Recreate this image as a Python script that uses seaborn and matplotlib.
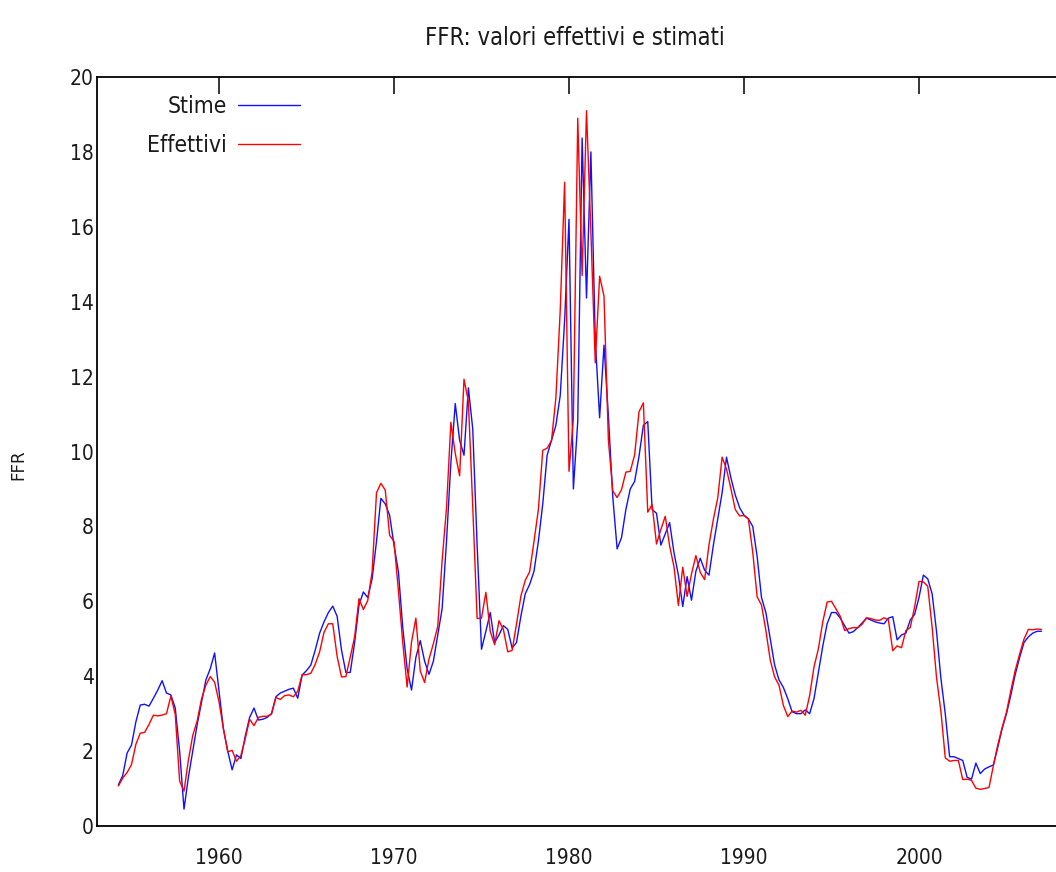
import numpy as np
import pandas as pd
import matplotlib
matplotlib.use("Agg")
import matplotlib.pyplot as plt
import seaborn as sns
from matplotlib import font_manager as fm

# ---------------- data (quarterly, first obs. 1954 Q3, last 2007 Q2) ----------------
start_year = 1954.25      # position of the first quarter on the time axis
step = 0.25

effettivi = [
    1.07, 1.28,
    1.43, 1.64, 2.18, 2.48,   # 1955
    2.50, 2.71, 2.96, 2.94,   # 1956
    2.96, 3.00, 3.47, 2.98,   # 1957
    1.20, 0.93, 1.76, 2.42,   # 1958
    2.80, 3.39, 3.76, 3.99,   # 1959
    3.84, 3.32, 2.60, 1.98,   # 1960
    2.02, 1.73, 1.88, 2.33,   # 1961
    2.85, 2.68, 2.90, 2.93,   # 1962
    2.93, 2.99, 3.43, 3.38,   # 1963
    3.48, 3.50, 3.45, 3.60,   # 1964
    4.04, 4.04, 4.08, 4.32,   # 1965
    4.65, 5.17, 5.40, 5.40,   # 1966
    4.53, 3.98, 3.99, 4.51,   # 1967
    5.05, 6.07, 5.78, 6.02,   # 1968
    6.79, 8.90, 9.15, 8.97,   # 1969
    7.76, 7.60, 6.29, 4.90,   # 1970
    3.71, 4.91, 5.55, 4.14,   # 1971
    3.83, 4.46, 4.87, 5.33,   # 1972
    7.09, 8.49, 10.78, 9.95,  # 1973
    9.35, 11.93, 11.34, 8.53, # 1974
    5.54, 5.55, 6.24, 5.20,   # 1975
    4.84, 5.48, 5.25, 4.65,   # 1976
    4.69, 5.39, 6.14, 6.56,   # 1977
    6.79, 7.60, 8.45, 10.03,  # 1978
    10.09, 10.29, 11.43, 13.78,  # 1979
    17.19, 9.47, 10.87, 18.90,   # 1980
    14.70, 19.10, 15.87, 12.37,  # 1981
    14.68, 14.15, 10.31, 8.95,   # 1982
    8.77, 8.98, 9.45, 9.47,   # 1983
    9.91, 11.06, 11.30, 8.38, # 1984
    8.58, 7.53, 7.92, 8.27,   # 1985
    7.48, 6.92, 5.89, 6.91,   # 1986
    6.13, 6.73, 7.22, 6.77,   # 1987
    6.58, 7.51, 8.19, 8.76,   # 1988
    9.85, 9.53, 9.01, 8.45,   # 1989
    8.28, 8.29, 8.20, 7.31,   # 1990
    6.12, 5.90, 5.22, 4.43,   # 1991
    3.98, 3.76, 3.22, 2.92,   # 1992
    3.07, 3.04, 3.09, 2.96,   # 1993
    3.48, 4.25, 4.73, 5.45,   # 1994
    5.98, 6.00, 5.80, 5.60,   # 1995
    5.22, 5.27, 5.30, 5.29,   # 1996
    5.39, 5.56, 5.54, 5.50,   # 1997
    5.49, 5.56, 5.51, 4.68,   # 1998
    4.81, 4.76, 5.22, 5.30,   # 1999
    5.85, 6.53, 6.52, 6.40,   # 2000
    5.31, 3.97, 3.07, 1.82,   # 2001
    1.73, 1.75, 1.75, 1.24,   # 2002
    1.25, 1.22, 1.01, 0.98,   # 2003
    1.00, 1.03, 1.61, 2.16,   # 2004
    2.63, 3.04, 3.62, 4.16,   # 2005
    4.59, 4.99, 5.25, 5.24,   # 2006
    5.26, 5.25,               # 2007
]

stime = [
    1.10, 1.35,
    1.95, 2.16, 2.78, 3.23,
    3.25, 3.20, 3.41, 3.63,
    3.88, 3.55, 3.50, 3.15,
    2.00, 0.45, 1.30, 2.00,
    2.70, 3.30, 3.90, 4.20,
    4.62, 3.60, 2.60, 2.00,
    1.50, 1.90, 1.80, 2.40,
    2.90, 3.15, 2.83, 2.85,
    2.90, 3.00, 3.45, 3.55,
    3.60, 3.65, 3.68, 3.41,
    4.03, 4.15, 4.30, 4.70,
    5.15, 5.45, 5.70, 5.87,
    5.60, 4.70, 4.10, 4.10,
    4.90, 5.90, 6.25, 6.10,
    6.60, 7.60, 8.75, 8.60,
    8.30, 7.50, 6.80, 5.30,
    4.20, 3.63, 4.50, 4.95,
    4.40, 4.05, 4.40, 5.10,
    5.80, 7.60, 9.70, 11.28,
    10.30, 9.90, 11.70, 10.60,
    7.50, 4.72, 5.20, 5.70,
    4.90, 5.10, 5.35, 5.25,
    4.75, 4.90, 5.60, 6.20,
    6.45, 6.80, 7.60, 8.60,
    9.90, 10.30, 10.70, 11.50,
    13.50, 16.20, 9.00, 10.80,
    18.37, 14.10, 18.00, 13.00,
    10.90, 12.84, 10.96, 8.80,
    7.40, 7.70, 8.45, 9.00,
    9.20, 9.87, 10.70, 10.80,
    8.45, 8.35, 7.50, 7.80,
    8.10, 7.30, 6.70, 5.86,
    6.66, 6.03, 6.80, 7.15,
    6.83, 6.70, 7.50, 8.20,
    8.90, 9.85, 9.30, 8.84,
    8.50, 8.30, 8.20, 8.00,
    7.20, 6.10, 5.70, 5.00,
    4.30, 3.90, 3.70, 3.40,
    3.05, 3.00, 3.00, 3.10,
    3.00, 3.40, 4.10, 4.80,
    5.40, 5.70, 5.70, 5.55,
    5.35, 5.15, 5.19, 5.30,
    5.42, 5.55, 5.50, 5.45,
    5.42, 5.40, 5.55, 5.59,
    4.97, 5.10, 5.15, 5.50,
    5.65, 6.10, 6.70, 6.60,
    6.20, 5.20, 3.95, 3.00,
    1.85, 1.85, 1.80, 1.75,
    1.30, 1.25, 1.68, 1.40,
    1.52, 1.58, 1.63, 2.10,
    2.60, 3.00, 3.50, 4.05,
    4.50, 4.90, 5.05, 5.15,
    5.20, 5.20,
]

x_ticks = [1960, 1970, 1980, 1990, 2000]
y_ticks = [0, 2, 4, 6, 8, 10, 12, 14, 16, 18, 20]
title = "FFR: valori effettivi e stimati"
series_labels = ["Stime", "Effettivi"]

assert len(stime) == len(effettivi)
periodo = start_year + step * np.arange(len(effettivi))
df = pd.DataFrame({"periodo": periodo, "Stime": stime, "Effettivi": effettivi})

# ---------------- style ----------------
sns.set_style("white")

def pick_condensed():
    for f in fm.fontManager.ttflist:
        if f.name == "DejaVu Sans" and "condensed" in str(f.stretch):
            return dict(family="DejaVu Sans", stretch="condensed")
    for f in fm.fontManager.ttflist:
        if "Narrow" in f.name or "Condensed" in f.name:
            return dict(family=f.name)
    return dict(family="DejaVu Sans")

cf = pick_condensed()
plt.rcParams["font.family"] = [cf["family"]]
if "stretch" in cf:
    plt.rcParams["font.stretch"] = cf["stretch"]
fs = 15
text_col = "#1a1a1a"

W, H = 1056, 872
fig = plt.figure(figsize=(W / 100, H / 100), dpi=100)
left, right, top, bottom = 96.5, 1059.0, 77.0, 826.0
ax = fig.add_axes([left / W, (H - bottom) / H, (right - left) / W, (bottom - top) / H])

sns.lineplot(data=df, x="periodo", y="Stime", ax=ax, color="#1010ff", lw=1.0,
             label=series_labels[0])
sns.lineplot(data=df, x="periodo", y="Effettivi", ax=ax, color="#ff0000", lw=1.0,
             label=series_labels[1])

ax.set_xlim(1953, 2008)
ax.set_ylim(0, 20)
ax.set_xticks(x_ticks)
ax.set_yticks(y_ticks)
ax.set_xticklabels([str(v) for v in x_ticks])
ax.set_yticklabels([str(v) for v in y_ticks])
ax.tick_params(axis="both", direction="in", length=12, width=1.1, color="black",
               top=True, right=False, labelsize=fs, labelcolor=text_col)
ax.tick_params(axis="x", pad=16)
ax.tick_params(axis="y", pad=2)
for s in ax.spines.values():
    s.set_visible(True)
    s.set_color("black")
    s.set_linewidth(1.3)

ax.set_xlabel("")
ax.set_ylabel("FFR", fontsize=12, family="DejaVu Sans", stretch="normal", color=text_col)
ax.yaxis.set_label_coords((27 - left) / (right - left), (bottom - 465) / (bottom - top))

fig.text(575 / W, 1 - 38 / H, title, ha="center", va="center", fontsize=17, color=text_col)

leg = ax.legend(loc="upper right", bbox_to_anchor=((300 - left) / (right - left), 0.976),
                frameon=False, markerfirst=False, fontsize=16.5, handlelength=2.7,
                handletextpad=0.5, labelspacing=0.72, borderpad=0, borderaxespad=0)
for t in leg.get_texts():
    t.set_color(text_col)

fig.savefig("out.png", dpi=100)
